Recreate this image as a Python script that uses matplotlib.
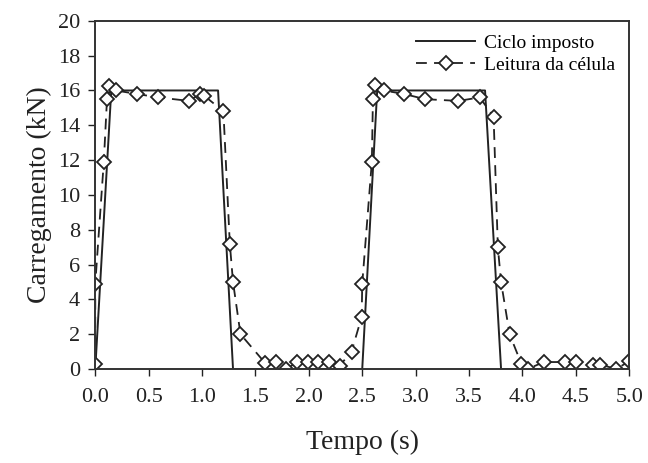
import matplotlib.pyplot as plt

plt.rcParams['font.family'] = ['Liberation Serif', 'DejaVu Serif']

# imposed load cycle
t_ciclo = [0.0, 0.15, 1.15, 1.29, 2.50, 2.64, 3.65, 3.80, 5.0]
f_ciclo = [0.0, 16.0, 16.0, 0.0, 0.0, 16.0, 16.0, 0.0, 0.0]

# load cell reading
t_celula = [0.0, 0.0, 0.08, 0.11, 0.13, 0.19, 0.39, 0.59, 0.88, 0.98, 1.02,
            1.20, 1.26, 1.29, 1.36, 1.59, 1.69, 1.79, 1.89, 1.99, 2.09, 2.19,
            2.29, 2.40, 2.495, 2.50, 2.59, 2.60, 2.62, 2.70, 2.89, 3.09, 3.40,
            3.60, 3.73, 3.77, 3.80, 3.88, 3.99, 4.05, 4.20, 4.40, 4.50, 4.66,
            4.73, 4.88, 5.0]
f_celula = [0.3, 4.9, 11.9, 15.5, 16.25, 16.0, 15.8, 15.6, 15.4, 15.8, 15.7,
            14.8, 7.2, 5.0, 2.0, 0.35, 0.4, 0.0, 0.4, 0.4, 0.4, 0.4,
            0.2, 1.0, 3.0, 4.9, 11.9, 15.5, 16.3, 16.0, 15.8, 15.5, 15.4,
            15.6, 14.5, 7.0, 5.0, 2.0, 0.3, 0.0, 0.4, 0.4, 0.4, 0.25,
            0.25, 0.0, 0.45]

fig = plt.figure(figsize=(6.48, 4.63), dpi=100)
ax = fig.add_axes([0.147, 0.203, 0.824, 0.752])

ax.plot(t_ciclo, f_ciclo, color='#222222', lw=1.4, label='Ciclo imposto')
ax.plot(t_celula, f_celula, color='#222222', lw=1.3, ls=(0, (6, 4)),
        marker='D', markersize=7, markerfacecolor='white',
        markeredgecolor='#222222', markeredgewidth=1.3,
        label='Leitura da célula')

ax.set_xlim(0, 5)
ax.set_ylim(0, 20)
ax.set_xticks([0.0, 0.5, 1.0, 1.5, 2.0, 2.5, 3.0, 3.5, 4.0, 4.5, 5.0])
ax.set_xticklabels(['0.0', '0.5', '1.0', '1.5', '2.0', '2.5', '3.0', '3.5',
                    '4.0', '4.5', '5.0'])
ax.set_yticks(range(0, 21, 2))
ax.tick_params(direction='out', length=5, width=1, colors='#222222',
               labelsize=16, pad=6)
ax.tick_params(axis='x', pad=9)
for s in ax.spines.values():
    s.set_color('#333333')
    s.set_linewidth(1.4)

ax.set_xlabel('Tempo (s)', fontsize=20, labelpad=16, color='#222222')
ax.set_ylabel('Carregamento (kN)', fontsize=20, labelpad=4, color='#222222')

ax.legend(loc='upper right', frameon=False, fontsize=14, handlelength=3.0,
          handletextpad=0.5, labelspacing=0.2, borderaxespad=0.3)

fig.savefig('out.png', dpi=100)
